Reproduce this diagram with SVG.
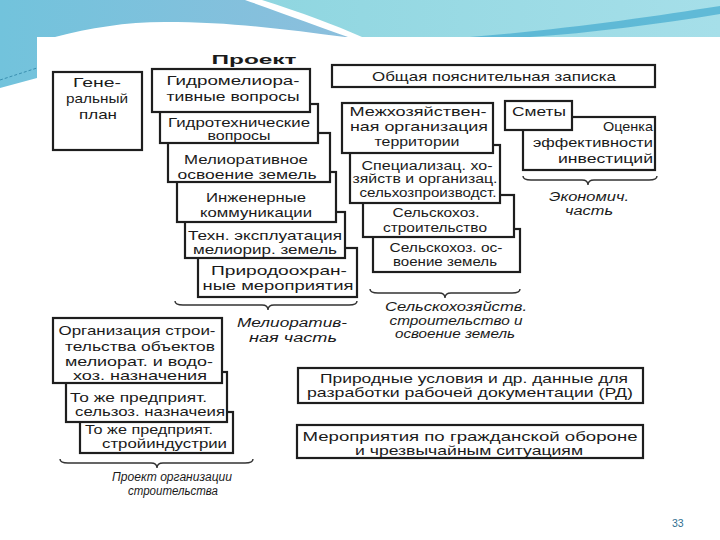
<svg xmlns="http://www.w3.org/2000/svg" width="720" height="540" viewBox="0 0 720 540">
<defs>
<linearGradient id="gL" x1="0" y1="0" x2="1" y2="0"><stop offset="0" stop-color="#72c3dc"/><stop offset="1" stop-color="#8cbfdd"/></linearGradient>
<linearGradient id="gR" x1="0" y1="0" x2="1" y2="0"><stop offset="0" stop-color="#8fd6e0"/><stop offset="1" stop-color="#a6dfe9"/></linearGradient>
<style>
.bx{fill:#fff;stroke:#1e1e1e;stroke-width:2.2}
.t{font-family:"Liberation Sans",Arial,sans-serif;font-size:13.5px;fill:#1a1a1a}
.s{font-size:12.5px}
.c{text-anchor:middle}
.r{text-anchor:end}
.i{font-style:italic;font-size:12.5px}
.br{fill:none;stroke:#333;stroke-width:1.4}
</style>
</defs>
<rect width="720" height="540" fill="#fff"/>
<g id="background">
<path d="M0,0 H245 C285,14 320,27 348,37 H37 V78 L0,88 Z" fill="url(#gL)"/>
<path d="M262,0 H720 V37 H362 C335,25 300,12 262,0 Z" fill="url(#gR)"/>
<path d="M470,37 C560,30 650,17 720,6 V14 C660,24 590,33 530,37 Z" fill="#4fb0d2" opacity="0.8"/>
<path d="M55,37 C90,28 125,22 165,22 C235,22 290,30 345,37 Z" fill="#fff"/>
<path d="M0,80 L37,68" stroke="#3a8fb0" stroke-width="1" stroke-dasharray="3,2"/>
</g>
<text class="t c" x="254" y="64" font-weight="bold" font-size="19" textLength="85" lengthAdjust="spacingAndGlyphs">Проект</text>

<g id="genplan">
<rect class="bx" x="53" y="72" width="89" height="78"/>
<text class="t c" x="97" y="87" textLength="48" lengthAdjust="spacingAndGlyphs">Гене-</text>
<text class="t c" x="97" y="103" textLength="62" lengthAdjust="spacingAndGlyphs">ральный</text>
<text class="t c" x="98" y="119" textLength="38" lengthAdjust="spacingAndGlyphs">план</text>
</g>

<g id="b6">
<rect class="bx" x="198" y="248" width="159" height="49"/>
<text class="t c" x="279" y="275" textLength="136" lengthAdjust="spacingAndGlyphs">Природоохран-</text>
<text class="t c" x="278" y="290" textLength="151" lengthAdjust="spacingAndGlyphs">ные мероприятия</text>
</g>
<g id="b5">
<rect class="bx" x="185" y="212" width="160" height="46"/>
<text class="t c" x="265" y="240" textLength="154" lengthAdjust="spacingAndGlyphs">Техн. эксплуатация</text>
<text class="t c" x="265" y="254" textLength="144" lengthAdjust="spacingAndGlyphs">мелиорир. земель</text>
</g>
<g id="b4">
<rect class="bx" x="177" y="172" width="159" height="50"/>
<text class="t c" x="256" y="202" textLength="100" lengthAdjust="spacingAndGlyphs">Инженерные</text>
<text class="t c" x="256" y="217" textLength="112" lengthAdjust="spacingAndGlyphs">коммуникации</text>
</g>
<g id="b3">
<rect class="bx" x="168" y="133" width="162" height="49"/>
<text class="t c" x="246" y="164" textLength="124" lengthAdjust="spacingAndGlyphs">Мелиоративное</text>
<text class="t c" x="247" y="179" textLength="139" lengthAdjust="spacingAndGlyphs">освоение земель</text>
</g>
<g id="b2">
<rect class="bx" x="160" y="104" width="158" height="39"/>
<text class="t s c" x="239" y="127" textLength="142" lengthAdjust="spacingAndGlyphs">Гидротехнические</text>
<text class="t s c" x="239" y="140" textLength="63" lengthAdjust="spacingAndGlyphs">вопросы</text>
</g>
<g id="b1">
<rect class="bx" x="152" y="69" width="158" height="43"/>
<text class="t c" x="233" y="85" textLength="133" lengthAdjust="spacingAndGlyphs">Гидромелиора-</text>
<text class="t c" x="233" y="101" textLength="133" lengthAdjust="spacingAndGlyphs">тивные вопросы</text>
</g>

<g id="zapiska">
<rect class="bx" x="332" y="65" width="323" height="22"/>
<text class="t c" x="494" y="81" textLength="244" lengthAdjust="spacingAndGlyphs">Общая пояснительная записка</text>
</g>

<g id="m4">
<rect class="bx" x="373" y="229" width="147" height="43"/>
<text class="t c" x="446" y="252" textLength="113" lengthAdjust="spacingAndGlyphs">Сельскохоз. ос-</text>
<text class="t c" x="445" y="266" textLength="104" lengthAdjust="spacingAndGlyphs">воение земель</text>
</g>
<g id="m3">
<rect class="bx" x="363" y="195" width="151" height="42"/>
<text class="t c" x="436" y="217" textLength="87" lengthAdjust="spacingAndGlyphs">Сельскохоз.</text>
<text class="t c" x="435" y="232" textLength="104" lengthAdjust="spacingAndGlyphs">строительство</text>
</g>
<g id="m2">
<rect class="bx" x="350" y="145" width="150" height="58"/>
<text class="t s c" x="427" y="170" textLength="131" lengthAdjust="spacingAndGlyphs">Специализац. хо-</text>
<text class="t s c" x="425" y="183" textLength="145" lengthAdjust="spacingAndGlyphs">зяйств и организац.</text>
<text class="t s c" x="428" y="197" textLength="137" lengthAdjust="spacingAndGlyphs">сельхозпроизводст.</text>
</g>
<g id="m1">
<rect class="bx" x="342" y="103" width="151" height="50"/>
<text class="t c" x="418" y="116" textLength="137" lengthAdjust="spacingAndGlyphs">Межхозяйствен-</text>
<text class="t c" x="419" y="131" textLength="138" lengthAdjust="spacingAndGlyphs">ная организация</text>
<text class="t c" x="417" y="146" textLength="85" lengthAdjust="spacingAndGlyphs">территории</text>
</g>

<g id="ocenka">
<rect class="bx" x="523" y="117" width="132" height="53"/>
<text class="t r" x="653" y="131" textLength="50" lengthAdjust="spacingAndGlyphs">Оценка</text>
<text class="t r" x="653" y="147" textLength="120" lengthAdjust="spacingAndGlyphs">эффективности</text>
<text class="t r" x="653" y="163" textLength="95" lengthAdjust="spacingAndGlyphs">инвестиций</text>
</g>
<g id="smety">
<rect class="bx" x="505" y="101" width="67" height="29"/>
<text class="t c" x="539" y="116" textLength="54" lengthAdjust="spacingAndGlyphs">Сметы</text>
</g>

<g id="l3">
<rect class="bx" x="80" y="412" width="153" height="41"/>
<text class="t" x="85" y="434" textLength="128" lengthAdjust="spacingAndGlyphs">То же предприят.</text>
<text class="t" x="102" y="448" textLength="125" lengthAdjust="spacingAndGlyphs">стройиндустрии</text>
</g>
<g id="l2">
<rect class="bx" x="66" y="372" width="161" height="50"/>
<text class="t" x="70" y="402" textLength="137" lengthAdjust="spacingAndGlyphs">То же предприят.</text>
<text class="t" x="75" y="416" textLength="150" lengthAdjust="spacingAndGlyphs">сельзоз. назначеия</text>
</g>
<g id="l1">
<rect class="bx" x="53" y="318" width="169" height="65"/>
<text class="t c" x="137" y="335" textLength="157" lengthAdjust="spacingAndGlyphs">Организация строи-</text>
<text class="t c" x="140" y="351" textLength="150" lengthAdjust="spacingAndGlyphs">тельства объектов</text>
<text class="t c" x="139" y="366" textLength="148" lengthAdjust="spacingAndGlyphs">мелиорат. и водо-</text>
<text class="t c" x="140" y="380" textLength="134" lengthAdjust="spacingAndGlyphs">хоз. назначения</text>
</g>

<g id="usloviya">
<rect class="bx" x="298" y="368" width="345" height="35"/>
<text class="t c" x="474" y="383" textLength="308" lengthAdjust="spacingAndGlyphs">Природные условия и др. данные для</text>
<text class="t c" x="470" y="397" textLength="326" lengthAdjust="spacingAndGlyphs">разработки рабочей документации  (РД)</text>
</g>
<g id="go">
<rect class="bx" x="297" y="425" width="346" height="33"/>
<text class="t c" x="470" y="441" textLength="335" lengthAdjust="spacingAndGlyphs">Мероприятия по гражданской обороне</text>
<text class="t c" x="469" y="455" textLength="228" lengthAdjust="spacingAndGlyphs">и чрезвычайным ситуациям</text>
</g>

<g id="connectors">
<path class="br" d="M175,301 Q175,305 183,305 H262 Q268,305 268,310 Q268,305 274,305 H349 Q357,305 357,301"/>
<path class="br" d="M370,289 Q370,293 378,293 H439 Q445,293 445,298 Q445,293 451,293 H512 Q520,293 520,289"/>
<path class="br" d="M523,176 Q523,180 531,180 H582 Q588,180 588,185 Q588,180 594,180 H649 Q657,180 657,176"/>
<path class="br" d="M60,459 Q60,463 68,463 H151 Q157,463 157,468 Q157,463 163,463 H245 Q253,463 253,459"/>
</g>

<g id="labels">
<text class="t c i" x="292" y="327" font-size="14.5" textLength="110" lengthAdjust="spacingAndGlyphs">Мелиоратив-</text>
<text class="t c i" x="293" y="342" font-size="14.5" textLength="88" lengthAdjust="spacingAndGlyphs">ная часть</text>
<text class="t c i" x="456" y="311" textLength="142" lengthAdjust="spacingAndGlyphs">Сельскохозяйств.</text>
<text class="t c i" x="456" y="325" textLength="133" lengthAdjust="spacingAndGlyphs">строительство и</text>
<text class="t c i" x="455" y="338" textLength="120" lengthAdjust="spacingAndGlyphs">освоение земель</text>
<text class="t c i" x="589" y="201" font-size="12" textLength="80" lengthAdjust="spacingAndGlyphs">Экономич.</text>
<text class="t c i" x="589" y="215" font-size="12" textLength="48" lengthAdjust="spacingAndGlyphs">часть</text>
<text class="t c i" x="172" y="481" textLength="120" lengthAdjust="spacingAndGlyphs">Проект организации</text>
<text class="t c i" x="173" y="495" textLength="90" lengthAdjust="spacingAndGlyphs">строительства</text>
</g>
<text x="672" y="527" font-family="Liberation Sans, Arial, sans-serif" font-size="10.5" fill="#2f6f8f">33</text>
</svg>
